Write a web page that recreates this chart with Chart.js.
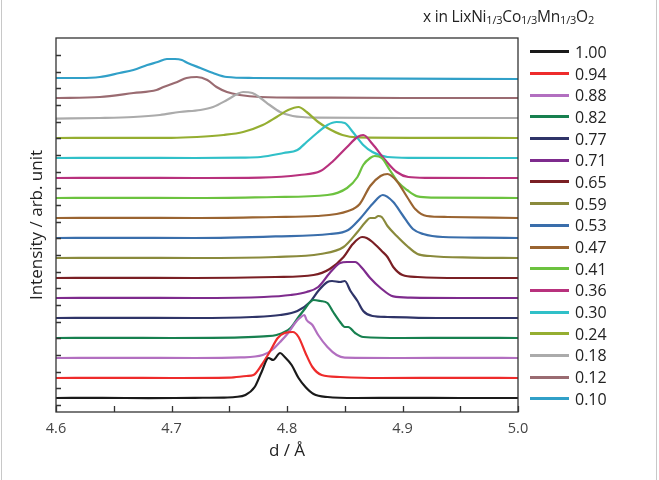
<!DOCTYPE html>
<html>
<head>
<meta charset="utf-8">
<script src="https://cdn.jsdelivr.net/npm/chart.js@4.4.1/dist/chart.umd.min.js"></script>
<style>
  html, body { margin: 0; padding: 0; background: #fff; }
  #wrap { position: relative; width: 659px; height: 480px; font-family: "Open Sans", sans-serif; }
  #wrap:before, #wrap:after { content: ""; position: absolute; top: 0; bottom: 0; width: 1px; background: #c8c8c8; }
  #wrap:before { left: 1px; }
  #wrap:after { left: 656px; }
  #title { position: absolute; left: 423px; top: 5px; font-size: 15.5px; color: #222; white-space: nowrap; letter-spacing: -0.2px; }
  #title sub { font-size: 11px; vertical-align: -2px; }
  #legend { position: absolute; left: 530px; top: 41px; }
  .row { height: 21.7px; display: flex; align-items: center; font-size: 16px; color: #222; }
  .row span.ln { display: inline-block; width: 39px; height: 3px; margin-right: 6px; }
</style>
</head>
<body>
<div id="wrap">
  <canvas id="chart" width="659" height="480"></canvas>
  <div id="title">x in Li<span>x</span>Ni<sub>1/3</sub>Co<sub>1/3</sub>Mn<sub>1/3</sub>O<sub>2</sub></div>
  <div id="legend"></div>
</div>
<script>
// x in LixNi1/3Co1/3Mn1/3O2, bottom trace first
const labels = ["1.00", "0.94", "0.88", "0.82", "0.77", "0.71", "0.65", "0.59", "0.53",
	"0.47", "0.41", "0.36", "0.30", "0.24", "0.18", "0.12", "0.10"];
const colors = ["#1a1a1a", "#ee2b2b", "#b26fc0", "#17804f", "#2f3468", "#7e2b8d", "#7a1f24",
	"#8a8a3c", "#3a6eab", "#9a6431", "#6cc23f", "#b8317d", "#30c0c8", "#95ae31", "#ababab",
	"#9a6b71", "#31a0c8"];

// [d / A, intensity above own baseline]
const s100 = [[4.600,0],[4.640,0.01],[4.680,-0.01],[4.720,0.01],[4.745,0.02],[4.755,0.05],[4.764,0.15],[4.772,0.55],[4.778,1.3],[4.784,2.0],[4.788,1.9],[4.794,2.25],[4.798,2.05],[4.804,1.65],[4.810,1.0],[4.816,0.55],[4.823,0.2],[4.835,0.05],[4.860,0],[4.900,0.01],[4.950,0],[5.000,0]];
const s094 = [[4.600,0],[4.650,0.01],[4.700,0],[4.750,0.02],[4.765,0.1],[4.771,0.15],[4.778,0.65],[4.785,1.3],[4.792,2.0],[4.798,2.25],[4.805,2.3],[4.810,2.05],[4.816,1.25],[4.822,0.55],[4.830,0.15],[4.846,0.05],[4.880,0],[4.950,0.01],[5.000,0]];
const s088 = [[4.600,0],[4.660,0.01],[4.720,0],[4.760,0.03],[4.779,0.15],[4.787,0.4],[4.794,0.8],[4.801,1.25],[4.807,1.75],[4.811,2.0],[4.815,2.15],[4.817,1.9],[4.822,1.65],[4.827,1.15],[4.835,0.55],[4.843,0.15],[4.850,0.02],[4.900,0],[4.960,0.01],[5.000,0]];
const s082 = [[4.600,0],[4.650,0.01],[4.700,0],[4.760,0.03],[4.780,0.08],[4.791,0.15],[4.803,0.5],[4.810,1.05],[4.816,1.5],[4.820,1.8],[4.823,1.9],[4.829,1.85],[4.835,1.75],[4.840,1.3],[4.846,0.8],[4.850,0.55],[4.853,0.55],[4.859,0.25],[4.866,0.05],[4.900,0],[4.950,0.01],[5.000,0]];
const s077 = [[4.600,0],[4.650,0.01],[4.720,0],[4.770,0.05],[4.794,0.15],[4.809,0.35],[4.820,0.8],[4.827,1.35],[4.835,1.8],[4.839,1.85],[4.846,1.8],[4.850,1.85],[4.855,1.35],[4.861,0.85],[4.866,0.35],[4.874,0.1],[4.887,0.05],[4.930,0],[5.000,0]];
const s071 = [[4.600,0],[4.660,0.01],[4.720,0],[4.780,0.05],[4.803,0.15],[4.817,0.3],[4.827,0.55],[4.837,1.25],[4.846,1.75],[4.852,1.8],[4.859,1.8],[4.865,1.5],[4.872,1.0],[4.881,0.5],[4.892,0.08],[4.907,0.02],[4.950,0],[5.000,0]];
const s065 = [[4.600,0],[4.650,0.01],[4.720,0],[4.790,0.05],[4.823,0.15],[4.837,0.45],[4.849,1.05],[4.857,1.7],[4.865,2.05],[4.869,2.0],[4.874,1.8],[4.882,1.35],[4.887,1.05],[4.892,0.55],[4.900,0.15],[4.913,0.05],[4.950,0],[5.000,0]];
const s059 = [[4.600,0],[4.660,0.01],[4.720,0],[4.790,0.05],[4.829,0.2],[4.849,0.55],[4.861,1.3],[4.868,1.8],[4.872,2.0],[4.876,2.0],[4.879,2.1],[4.882,2.05],[4.887,1.6],[4.895,1.1],[4.904,0.6],[4.913,0.2],[4.924,0.1],[4.960,0.02],[5.000,0]];
const s053 = [[4.600,0],[4.650,0.01],[4.720,0],[4.790,0.08],[4.837,0.2],[4.853,0.4],[4.863,0.95],[4.874,1.7],[4.883,2.15],[4.892,1.8],[4.900,1.15],[4.909,0.45],[4.918,0.2],[4.935,0.05],[4.970,0.02],[5.000,0]];
const s047 = [[4.600,0],[4.660,0.01],[4.720,0],[4.790,0.05],[4.826,0.1],[4.853,0.35],[4.863,0.7],[4.872,1.6],[4.881,2.1],[4.887,2.2],[4.895,1.85],[4.904,1.05],[4.911,0.45],[4.921,0.1],[4.939,0.05],[5.000,0]];
const s041 = [[4.600,0],[4.650,0.01],[4.720,0],[4.790,0.05],[4.835,0.15],[4.852,0.5],[4.861,1.05],[4.866,1.65],[4.872,2.0],[4.876,2.1],[4.882,2.0],[4.889,1.4],[4.896,0.8],[4.904,0.4],[4.913,0.08],[4.926,0.02],[5.000,0]];
const s036 = [[4.600,0],[4.660,0.01],[4.720,0],[4.777,0.02],[4.811,0.15],[4.829,0.35],[4.840,0.85],[4.852,1.55],[4.861,2.05],[4.866,2.15],[4.874,1.7],[4.885,0.9],[4.895,0.3],[4.905,0.05],[4.921,0.01],[5.000,0]];
const s030 = [[4.600,0],[4.660,0.01],[4.720,0],[4.760,0.02],[4.777,0.05],[4.797,0.25],[4.809,0.4],[4.817,0.8],[4.826,1.25],[4.835,1.65],[4.843,1.8],[4.850,1.75],[4.857,1.3],[4.866,0.65],[4.874,0.3],[4.887,0.05],[4.907,0.01],[5.000,0]];
const s024 = [[4.600,0],[4.650,0.01],[4.700,0.01],[4.722,0.05],[4.745,0.15],[4.762,0.3],[4.779,0.65],[4.791,1.05],[4.801,1.4],[4.810,1.55],[4.817,1.3],[4.827,0.8],[4.835,0.5],[4.848,0.15],[4.861,0.03],[4.920,0.01],[5.000,0]];
const s018 = [[4.600,-0.03],[4.638,0],[4.667,0.05],[4.690,0.15],[4.707,0.3],[4.725,0.4],[4.736,0.55],[4.748,0.9],[4.757,1.2],[4.762,1.3],[4.770,1.25],[4.777,1.0],[4.785,0.65],[4.794,0.3],[4.805,0.1],[4.826,0.02],[4.900,0],[5.000,0]];
const s012 = [[4.600,0],[4.638,0.05],[4.667,0.25],[4.687,0.4],[4.693,0.55],[4.705,0.8],[4.713,1.0],[4.722,1.05],[4.731,0.9],[4.739,0.55],[4.748,0.3],[4.759,0.15],[4.777,0.05],[4.820,0.02],[4.900,0],[5.000,0]];
const s010 = [[4.600,0],[4.621,0],[4.638,0.05],[4.655,0.25],[4.667,0.4],[4.679,0.65],[4.688,0.8],[4.696,0.95],[4.703,0.95],[4.709,0.9],[4.714,0.75],[4.725,0.5],[4.736,0.25],[4.748,0.05],[4.771,0],[4.850,-0.02],[5.000,-0.05]];

const series = [s100, s094, s088, s082, s077, s071, s065, s059, s053, s047, s041, s036, s030, s024, s018, s012, s010];
const offsetStep = 1; // vertical shift between traces, arb. unit

const xTickValues = [4.6, 4.65, 4.7, 4.75, 4.8, 4.85, 4.9, 4.95, 5.0];
let yTickValues = [];
for (let k = 0; k <= 21; k++) yTickValues.push(-0.35 + k * 0.8333);

let datasets = [];
for (let i = 0; i < series.length; i++) {
	datasets.push({
		label: labels[i],
		data: series[i].map(p => ({ x: p[0], y: p[1] + i * offsetStep })),
		borderColor: colors[i],
		backgroundColor: colors[i],
		borderWidth: 2.2,
		pointRadius: 0,
		cubicInterpolationMode: "monotone",
		fill: false,
	});
}

// html legend from the datasets
let legend_html = "";
for (let i = 0; i < datasets.length; i++) {
	legend_html += `<div class="row"><span class="ln" style="background:${datasets[i].borderColor}"></span>${datasets[i].label}</div>`;
}
document.getElementById("legend").innerHTML = legend_html;

const frameTicks = {
	id: "frameTicks",
	afterDatasetsDraw(chart) {
		const { ctx, chartArea: a, scales } = chart;
		ctx.save();
		ctx.strokeStyle = "#333";
		ctx.lineWidth = 1.3;
		ctx.strokeRect(a.left, a.top, a.right - a.left, a.bottom - a.top);
		ctx.beginPath();
		xTickValues.forEach(v => {
			const px = Math.round(scales.x.getPixelForValue(v)) + 0.5;
			ctx.moveTo(px, a.bottom);
			ctx.lineTo(px, a.bottom - 6);
		});
		yTickValues.forEach(v => {
			const py = Math.round(scales.y.getPixelForValue(v)) + 0.5;
			ctx.moveTo(a.left, py);
			ctx.lineTo(a.left + 5, py);
		});
		ctx.stroke();
		ctx.restore();
	},
};

new Chart(document.getElementById("chart").getContext("2d"), {
	type: "line",
	data: { datasets: datasets },
	plugins: [frameTicks],
	options: {
		responsive: false,
		animation: false,
		layout: { padding: { top: 38, right: 141, left: 0, bottom: 0 } },
		plugins: { legend: { display: false }, tooltip: { enabled: false } },
		scales: {
			x: {
				type: "linear",
				min: 4.6,
				max: 5.0,
				afterFit: s => { s.height = 68; },
				grid: { display: false, drawTicks: false },
				border: { display: false },
				ticks: {
					stepSize: 0.1,
					padding: 8,
					color: "#444",
					font: { family: "Open Sans", size: 14.5 },
					callback: v => v.toFixed(1),
				},
				title: {
					display: true,
					text: "d / Å",
					color: "#222",
					font: { family: "Open Sans", size: 17 },
					padding: { top: 0, bottom: 19 },
				},
			},
			y: {
				min: -0.7,
				max: 18.0,
				afterFit: s => { s.width = 56; },
				grid: { display: false, drawTicks: false },
				border: { display: false },
				ticks: { display: false },
				title: {
					display: true,
					text: "Intensity / arb. unit",
					color: "#222",
					font: { family: "Open Sans", size: 17 },
					padding: { top: 27, bottom: 0 },
				},
			},
		},
	},
});
</script>
</body>
</html>
